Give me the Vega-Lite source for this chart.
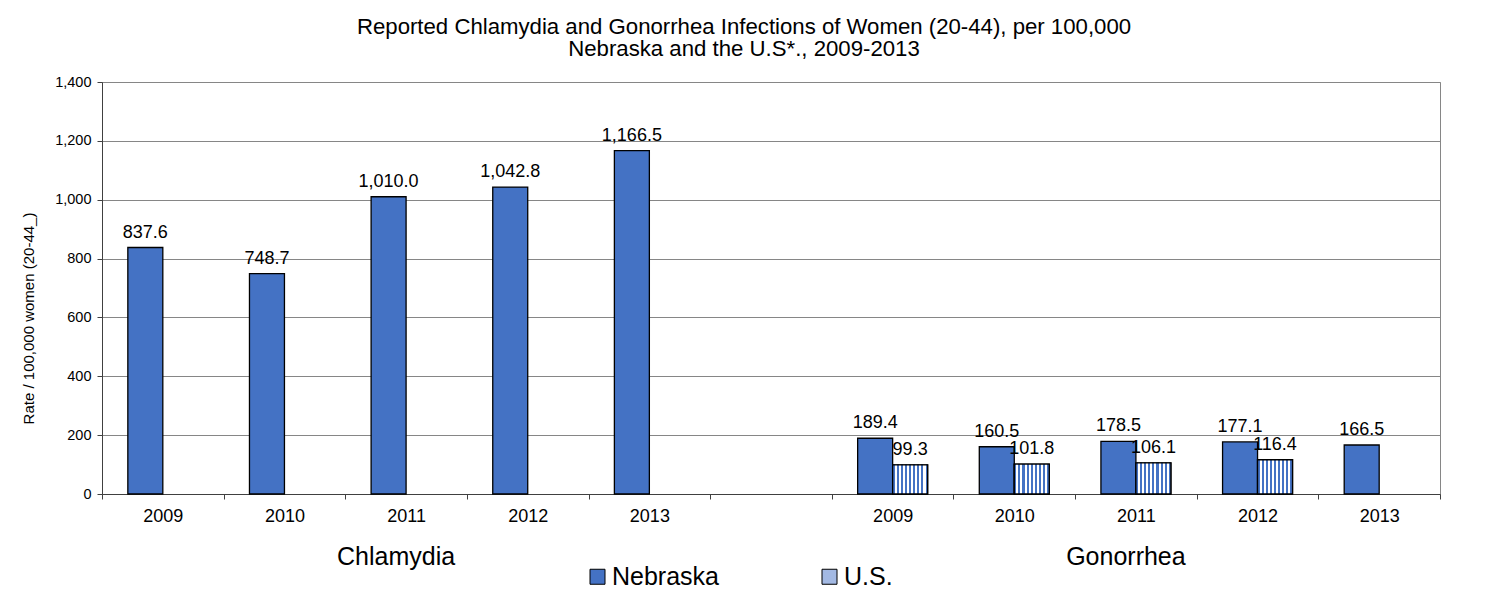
{
  "$schema": "https://vega.github.io/schema/vega-lite/v6.json",
  "width": 1338,
  "height": 412,
  "autosize": {"type": "none"},
  "padding": {"left": 102, "top": 82, "right": 72, "bottom": 108},
  "background": "white",
  "title": {
    "text": ["Reported Chlamydia and Gonorrhea Infections of Women (20-44), per 100,000", "Nebraska and the U.S*., 2009-2013"],
    "fontSize": 22.2,
    "font": "Liberation Sans",
    "fontWeight": "normal",
    "color": "black",
    "anchor": "middle",
    "frame": "group",
    "offset": 14,
    "lineHeight": 22,
    "dx": -27
  },
  "config": {
    "font": "Liberation Sans",
    "view": {"stroke": "#868686", "strokeWidth": 1},
    "axis": {"labelColor": "black", "titleColor": "black", "labelFont": "Liberation Sans", "titleFont": "Liberation Sans"}
  },
  "datasets": {
    "bars": [
      {"slot": "C2009", "disease": "Chlamydia", "year": "2009", "source": "Nebraska", "rate": 837.6},
      {"slot": "C2010", "disease": "Chlamydia", "year": "2010", "source": "Nebraska", "rate": 748.7},
      {"slot": "C2011", "disease": "Chlamydia", "year": "2011", "source": "Nebraska", "rate": 1010.0},
      {"slot": "C2012", "disease": "Chlamydia", "year": "2012", "source": "Nebraska", "rate": 1042.8},
      {"slot": "C2013", "disease": "Chlamydia", "year": "2013", "source": "Nebraska", "rate": 1166.5},
      {"slot": "G2009", "disease": "Gonorrhea", "year": "2009", "source": "Nebraska", "rate": 189.4},
      {"slot": "G2009", "disease": "Gonorrhea", "year": "2009", "source": "U.S.", "rate": 99.3},
      {"slot": "G2010", "disease": "Gonorrhea", "year": "2010", "source": "Nebraska", "rate": 160.5},
      {"slot": "G2010", "disease": "Gonorrhea", "year": "2010", "source": "U.S.", "rate": 101.8},
      {"slot": "G2011", "disease": "Gonorrhea", "year": "2011", "source": "Nebraska", "rate": 178.5},
      {"slot": "G2011", "disease": "Gonorrhea", "year": "2011", "source": "U.S.", "rate": 106.1},
      {"slot": "G2012", "disease": "Gonorrhea", "year": "2012", "source": "Nebraska", "rate": 177.1},
      {"slot": "G2012", "disease": "Gonorrhea", "year": "2012", "source": "U.S.", "rate": 116.4},
      {"slot": "G2013", "disease": "Gonorrhea", "year": "2013", "source": "Nebraska", "rate": 166.5}
    ],
    "groups": [
      {"slot": "C2011", "disease": "Chlamydia"},
      {"slot": "G2011", "disease": "Gonorrhea"}
    ]
  },
  "layer": [
    {
      "data": {"name": "bars"},
      "mark": {"type": "bar", "stroke": "black", "strokeWidth": 1.3},
      "encoding": {
        "x": {
          "field": "slot",
          "type": "nominal",
          "scale": {
            "domain": ["C2009", "C2010", "C2011", "C2012", "C2013", "_", "G2009", "G2010", "G2011", "G2012", "G2013"],
            "paddingInner": 0,
            "paddingOuter": 0
          },
          "axis": {
            "title": null,
            "labelExpr": "isString(datum.value) ? substring(datum.value, 1) : ''",
            "labelAngle": 0,
            "labelFontSize": 18,
            "labelPadding": 8,
            "tickBand": "extent",
            "ticks": true,
            "tickSize": 5,
            "tickColor": "#404040",
            "domainColor": "#404040",
            "grid": false
          }
        },
        "xOffset": {
          "field": "source",
          "type": "nominal",
          "scale": {"domain": ["Nebraska", "U.S."], "paddingInner": 0, "paddingOuter": 0.7386}
        },
        "y": {
          "field": "rate",
          "type": "quantitative",
          "scale": {"domain": [0, 1400], "nice": false},
          "axis": {
            "title": "Rate / 100,000 women (20-44_)",
            "titleFontSize": 15,
            "titleFontWeight": "normal",
            "titlePadding": 18,
            "titleY": 236,
            "values": [0, 200, 400, 600, 800, 1000, 1200, 1400],
            "format": ",d",
            "labelFontSize": 14.5,
            "labelPadding": 6,
            "tickSize": 5,
            "tickColor": "#404040",
            "domainColor": "#404040",
            "grid": true,
            "gridColor": "#868686"
          }
        },
        "fill": {
          "field": "source",
          "type": "nominal",
          "scale": {"domain": ["Nebraska", "U.S."], "range": ["#4472C4", "#A3B9E3"]},
          "legend": {
            "orient": "none",
            "legendX": 483,
            "legendY": 482,
            "direction": "horizontal",
            "title": null,
            "labelFontSize": 25,
            "labelColor": "black",
            "symbolType": "square",
            "symbolSize": 225,
            "symbolStrokeColor": "black",
            "symbolStrokeWidth": 1,
            "symbolOpacity": 1,
            "labelOffset": 2,
            "columnPadding": 98
          }
        }
      }
    },
    {
      "data": {"name": "bars"},
      "transform": [{"filter": "datum.source == 'U.S.'"}],
      "mark": {
        "type": "bar",
        "stroke": "black",
        "strokeWidth": 1.3,
        "fill": {
          "gradient": "linear",
          "x1": 0, "x2": 1, "y1": 0, "y2": 0,
          "stops": [
            {"offset": 0.0, "color": "#4472C4"}, {"offset": 0.059, "color": "#4472C4"},
            {"offset": 0.059, "color": "#FFFFFF"}, {"offset": 0.118, "color": "#FFFFFF"},
            {"offset": 0.118, "color": "#4472C4"}, {"offset": 0.176, "color": "#4472C4"},
            {"offset": 0.176, "color": "#FFFFFF"}, {"offset": 0.235, "color": "#FFFFFF"},
            {"offset": 0.235, "color": "#4472C4"}, {"offset": 0.294, "color": "#4472C4"},
            {"offset": 0.294, "color": "#FFFFFF"}, {"offset": 0.353, "color": "#FFFFFF"},
            {"offset": 0.353, "color": "#4472C4"}, {"offset": 0.412, "color": "#4472C4"},
            {"offset": 0.412, "color": "#FFFFFF"}, {"offset": 0.471, "color": "#FFFFFF"},
            {"offset": 0.471, "color": "#4472C4"}, {"offset": 0.529, "color": "#4472C4"},
            {"offset": 0.529, "color": "#FFFFFF"}, {"offset": 0.588, "color": "#FFFFFF"},
            {"offset": 0.588, "color": "#4472C4"}, {"offset": 0.647, "color": "#4472C4"},
            {"offset": 0.647, "color": "#FFFFFF"}, {"offset": 0.706, "color": "#FFFFFF"},
            {"offset": 0.706, "color": "#4472C4"}, {"offset": 0.765, "color": "#4472C4"},
            {"offset": 0.765, "color": "#FFFFFF"}, {"offset": 0.824, "color": "#FFFFFF"},
            {"offset": 0.824, "color": "#4472C4"}, {"offset": 0.882, "color": "#4472C4"},
            {"offset": 0.882, "color": "#FFFFFF"}, {"offset": 0.941, "color": "#FFFFFF"},
            {"offset": 0.941, "color": "#4472C4"}, {"offset": 1.0, "color": "#4472C4"}
          ]
        }
      },
      "encoding": {
        "x": {"field": "slot", "type": "nominal"},
        "xOffset": {"field": "source", "type": "nominal"},
        "y": {"field": "rate", "type": "quantitative"}
      }
    },
    {
      "data": {"name": "bars"},
      "mark": {"type": "text", "fontSize": 18, "dy": -10, "baseline": "alphabetic", "color": "black"},
      "encoding": {
        "x": {"field": "slot", "type": "nominal"},
        "xOffset": {"field": "source", "type": "nominal"},
        "y": {"field": "rate", "type": "quantitative"},
        "text": {"field": "rate", "type": "quantitative", "format": ",.1f"}
      }
    },
    {
      "data": {"name": "groups"},
      "mark": {"type": "text", "fontSize": 25, "dy": 71, "dx": -10, "baseline": "alphabetic", "color": "black"},
      "encoding": {
        "x": {"field": "slot", "type": "nominal"},
        "y": {"datum": 0},
        "text": {"field": "disease", "type": "nominal"}
      }
    }
  ]
}
